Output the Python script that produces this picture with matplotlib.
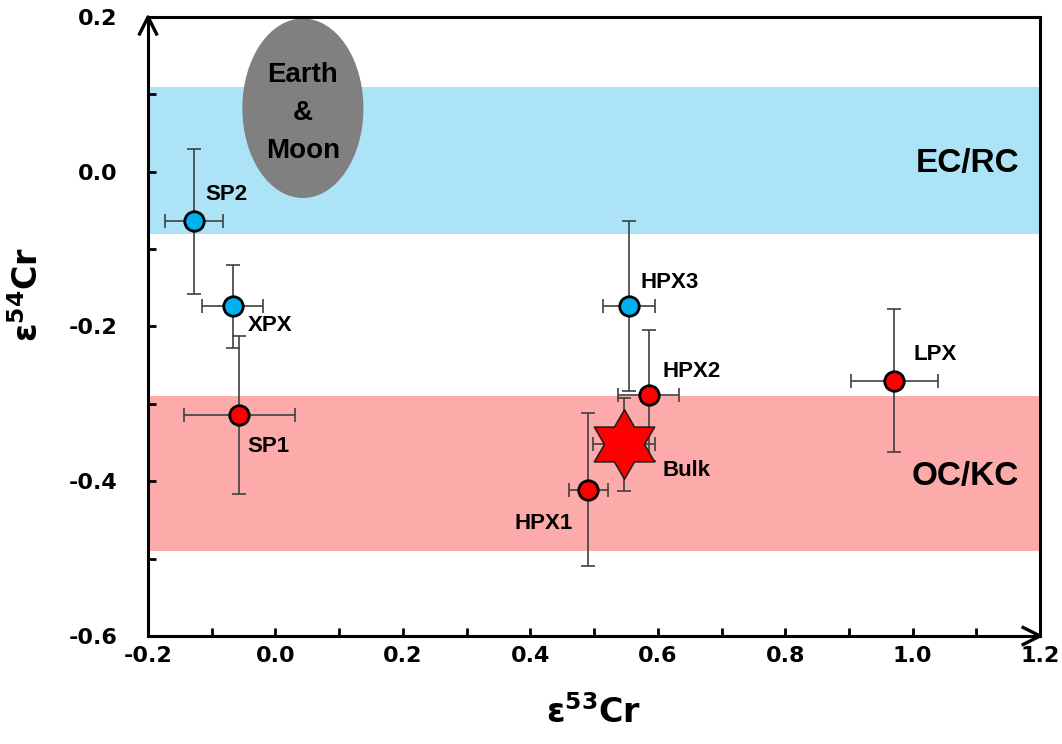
import numpy as np
import matplotlib.pyplot as plt
from matplotlib.patches import Ellipse
from matplotlib.path import Path
from matplotlib.transforms import ScaledTranslation

plt.rcParams['font.family'] = ['Liberation Sans', 'DejaVu Sans']
plt.rcParams['font.weight'] = 'bold'
plt.rcParams['mathtext.fontset'] = 'custom'
plt.rcParams['mathtext.rm'] = 'DejaVu Sans:bold'
plt.rcParams['mathtext.default'] = 'rm'

# samples
names = ['SP2', 'XPX', 'SP1', 'HPX3', 'HPX2', 'HPX1', 'LPX']
e53 = [-0.128, -0.067, -0.057, 0.555, 0.586, 0.491, 0.971]
e54 = [-0.064, -0.174, -0.314, -0.174, -0.289, -0.411, -0.270]
e53_err = [0.045, 0.048, 0.087, 0.041, 0.048, 0.031, 0.068]
e54_err = [0.094, 0.054, 0.102, 0.110, 0.085, 0.099, 0.092]
group = ['EC', 'EC', 'OC', 'EC', 'OC', 'OC', 'OC']

# bulk rock
bulk_x, bulk_y = 0.547, -0.352
bulk_xerr, bulk_yerr = 0.049, 0.060

# reference fields
ecrc_band = (-0.08, 0.11)
ockc_band = (-0.49, -0.29)
earth_moon = (0.043, 0.082, 0.19, 0.232)  # cx, cy, width, height

# axis ticks
xticks = [-0.2, 0.0, 0.2, 0.4, 0.6, 0.8, 1.0, 1.2]
yticks = [-0.6, -0.4, -0.2, 0.0, 0.2]

colors = {'EC': '#00B0F0', 'OC': '#FF0000'}

fig = plt.figure(figsize=(10.62, 7.44), dpi=100)
ax = fig.add_axes([0.1394, 0.1452, 0.8400, 0.8320])

ax.axhspan(*ecrc_band, color='#ADE3F7', lw=0, zorder=0)
ax.axhspan(*ockc_band, color='#FCAAAA', lw=0, zorder=0)
ax.add_patch(Ellipse(earth_moon[:2], earth_moon[2], earth_moon[3],
                     color='#808080', lw=0, zorder=1))
ax.text(earth_moon[0], earth_moon[1] - 0.006, 'Earth\n&\nMoon', ha='center', va='center',
        fontsize=20, fontweight='bold', linespacing=1.6, zorder=2)

ax.text(1.167, 0.01, 'EC/RC', ha='right', va='center', fontsize=24, fontweight='bold')
ax.text(1.167, -0.394, 'OC/KC', ha='right', va='center', fontsize=24, fontweight='bold')

for i in range(len(names)):
    ax.errorbar(e53[i], e54[i], xerr=e53_err[i], yerr=e54_err[i], fmt='none',
                ecolor='#404040', elinewidth=1.2, capsize=5, capthick=1.2, zorder=3)

for i in range(len(names)):
    ax.plot(e53[i], e54[i], 'o', ms=14, mfc=colors[group[i]], mec='black',
            mew=2, zorder=5)

# six-pointed star marker
ang = np.pi / 2 + np.arange(12) * np.pi / 6
rad = np.where(np.arange(12) % 2 == 0, 1.0, 0.577)
verts = np.column_stack([rad * np.cos(ang), rad * np.sin(ang)])
star = Path(np.vstack([verts, verts[:1]]), closed=True)

ax.errorbar(bulk_x, bulk_y, xerr=bulk_xerr, yerr=bulk_yerr, fmt='none',
            ecolor='#404040', elinewidth=1.2, capsize=5, capthick=1.2, zorder=4)
ax.plot(bulk_x, bulk_y, marker=star, ms=50, mfc='#FF0000', mec='#202020',
        mew=1.2, zorder=6)

offsets = {'SP2': (8, 19, 'left'), 'XPX': (11, -14, 'left'), 'SP1': (6, -23, 'left'),
           'HPX3': (8, 17, 'left'), 'HPX2': (10, 17, 'left'), 'HPX1': (-11, -24, 'right'),
           'LPX': (14, 19, 'left')}
for i, n in enumerate(names):
    dx, dy, ha = offsets[n]
    ax.annotate(n, (e53[i], e54[i]), xytext=(dx, dy), textcoords='offset points',
                ha=ha, va='center', fontsize=16, fontweight='bold', zorder=7)
ax.annotate('Bulk', (bulk_x, bulk_y), xytext=(28, -19), textcoords='offset points',
            ha='left', va='center', fontsize=16, fontweight='bold', zorder=7)

ax.set_xlim(-0.2, 1.2)
ax.set_ylim(-0.6, 0.2)
ax.set_xticks(xticks)
ax.set_xticklabels(['%.1f' % v for v in xticks])
ax.set_yticks(yticks)
ax.set_yticklabels(['%.1f' % v for v in yticks])
ax.set_xticks(np.arange(-0.1, 1.2, 0.2), minor=True)
ax.set_yticks(np.arange(-0.5, 0.2, 0.2), minor=True)
ax.tick_params(which='both', direction='in', length=6, width=2)
ax.tick_params(axis='x', pad=7, labelsize=16)
ax.tick_params(axis='y', pad=22, labelsize=16)
for s in ax.spines.values():
    s.set_linewidth(2.2)

# arrow heads on the axes
up = fig.dpi_scale_trans + ScaledTranslation(0, 1, ax.transAxes)
ax.plot([-0.085, 0, 0.085], [-0.17, 0, -0.17], color='black', lw=2.4,
        transform=up, clip_on=False, zorder=8)
right = fig.dpi_scale_trans + ScaledTranslation(1, 0, ax.transAxes)
ax.plot([-0.17, 0, -0.17], [0.085, 0, -0.085], color='black', lw=2.4,
        transform=right, clip_on=False, zorder=8)

ax.set_xlabel('ε$^{53}$Cr', fontsize=24, fontweight='bold', family='DejaVu Sans')
ax.set_ylabel('ε$^{54}$Cr', fontsize=24, fontweight='bold', family='DejaVu Sans')
ax.xaxis.set_label_coords(0.5, -0.123)
ax.xaxis.label.set_va('center')
ax.yaxis.set_label_coords(-0.1345, 0.551)
ax.yaxis.label.set_va('center')

fig.canvas.draw()
for lab in ax.get_xticklabels() + ax.get_yticklabels():
    lab.set_fontfamily('DejaVu Sans')
    lab.set_fontweight('bold')
    lab.set_fontsize(16)

fig.savefig('out.png', dpi=100)
